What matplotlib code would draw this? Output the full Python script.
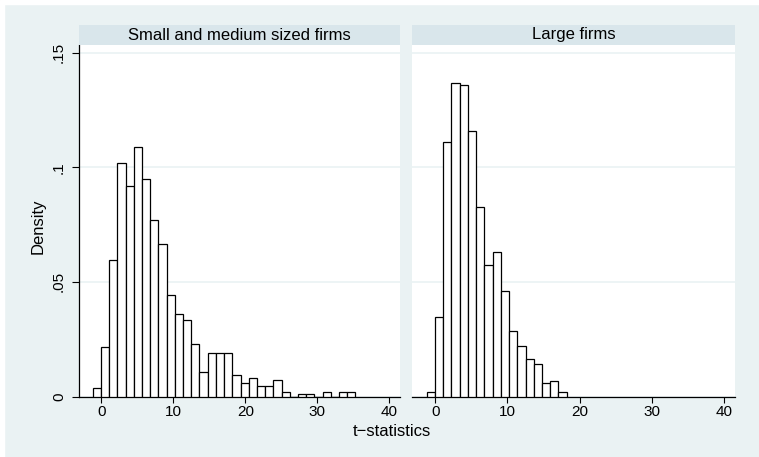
import matplotlib
matplotlib.use("Agg")
import matplotlib.pyplot as plt
import numpy as np

# Histogram bins (shared by both panels, as Stata does with by())
bin_start = -1.18
bin_width = 1.14

panel_titles = ["Small and medium sized firms", "Large firms"]

# Density per bin
sme_density = [
    0.0039, 0.0218, 0.0594, 0.102, 0.092, 0.109, 0.095, 0.0771,
    0.0664, 0.0445, 0.0358, 0.0336, 0.0227, 0.0109, 0.0188, 0.0188,
    0.0188, 0.0092, 0.0060, 0.0079, 0.0048, 0.0048, 0.0071, 0.0019,
    0.0, 0.0009, 0.0009, 0.0, 0.0019, 0.0, 0.0019, 0.0019,
]
large_density = [
    0.0018, 0.0345, 0.111, 0.137, 0.136, 0.116, 0.0825, 0.0574,
    0.0632, 0.046, 0.0286, 0.022, 0.0162, 0.0143, 0.0057, 0.0066,
    0.0018,
]

x_ticks = [0, 10, 20, 30, 40]
y_ticks = [0, 0.05, 0.1, 0.15]
y_tick_labels = ["0", ".05", ".1", ".15"]

# Stata s2color-ish palette
bg_color = "#eaf2f3"
strip_color = "#d9e6eb"
grid_color = "#eaf2f3"

plt.rcParams["font.family"] = ["Liberation Sans", "DejaVu Sans"]

W, H = 759, 457
fig = plt.figure(figsize=(W / 100, H / 100), dpi=100)
fig.patch.set_facecolor(bg_color)

# thin white margin at the top and left, as in the exported graph
fig.patches.append(plt.Rectangle((0, 1 - 4 / H), 1, 4 / H, transform=fig.transFigure,
                                 color="white", zorder=0))
fig.patches.append(plt.Rectangle((0, 0), 4 / W, 1, transform=fig.transFigure,
                                 color="white", zorder=0))


def px_axes(x0, y0, x1, y1):
    # pixel box (top-left origin) -> figure axes
    return fig.add_axes([x0 / W, 1 - y1 / H, (x1 - x0) / W, (y1 - y0) / H])


panels = [(78.5, 400.0), (412.3, 735.0)]
series = [sme_density, large_density]
plot_top, plot_bottom = 45.0, 396.5

for i, ((x0, x1), dens) in enumerate(zip(panels, series)):
    ax = px_axes(x0, plot_top, x1, plot_bottom)
    ax.set_facecolor("white")
    edges = bin_start + bin_width * np.arange(len(dens))
    ax.bar(edges, dens, width=bin_width, align="edge", color="white",
           edgecolor="black", linewidth=0.9, zorder=3)

    ax.set_xlim(-3.17, 41.5)
    ax.set_ylim(0, 0.1534)
    ax.set_yticks(y_ticks)
    ax.set_xticks(x_ticks)
    ax.set_xticklabels([str(t) for t in x_ticks])
    ax.yaxis.grid(True, color=grid_color, linewidth=1.2, zorder=0)
    ax.set_axisbelow(True)

    for side in ["top", "right"]:
        ax.spines[side].set_visible(False)
    ax.spines["bottom"].set_linewidth(0.9)
    ax.tick_params(axis="x", direction="out", length=4, width=0.8,
                   labelsize=11, pad=2)

    if i == 0:
        ax.spines["left"].set_linewidth(0.9)
        ax.set_yticklabels(y_tick_labels)
        ax.tick_params(axis="y", direction="out", length=5, width=0.8,
                       labelsize=11, pad=4, labelrotation=90)
        for lab in ax.get_yticklabels():
            lab.set_va("center")
    else:
        ax.spines["left"].set_visible(False)
        ax.tick_params(axis="y", left=False, labelleft=False)

    # panel strip
    sax = px_axes(x0, 25.0, x1, 45.0)
    sax.set_facecolor(strip_color)
    sax.set_xticks([])
    sax.set_yticks([])
    for s in sax.spines.values():
        s.set_visible(False)
    sax.text(0.5, 0.5, panel_titles[i], ha="center", va="center",
             fontsize=12, transform=sax.transAxes)

fig.text(392 / W, 1 - 432 / H, "t\u2212statistics", ha="center", va="center", fontsize=12)
fig.text(38 / W, 1 - 226.7 / H, "Density", ha="center", va="center",
         rotation=90, fontsize=12)

fig.savefig("out.png", dpi=100, facecolor=fig.get_facecolor())
